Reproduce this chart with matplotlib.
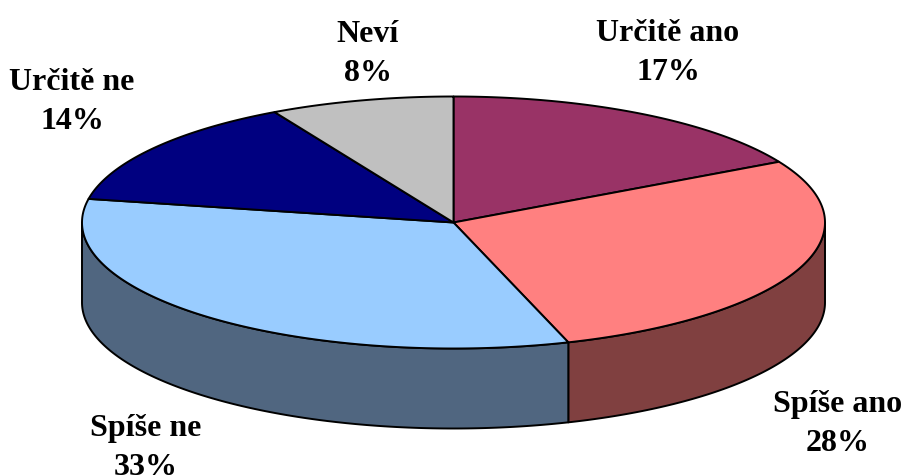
import numpy as np
import matplotlib
matplotlib.use("Agg")
import matplotlib.pyplot as plt
from matplotlib.patches import Polygon

labels = ["Určitě ano", "Spíše ano", "Spíše ne", "Určitě ne", "Neví"]
values = [17, 28, 33, 14, 8]
top_colors = ["#993366", "#FF8080", "#99CCFF", "#000080", "#C0C0C0"]
side_colors = ["#4D1A33", "#804040", "#506680", "#000040", "#606060"]
label_xy = [(668, 53), (838, 424), (146, 448), (72, 102), (368, 54)]

W, H = 904, 476
CX, CY = 453.5, 222.5
RX, RY = 371.5, 126
DEPTH = 80


def rim(a0, a1, n=200):
    t = np.radians(np.linspace(a0, a1, n))
    return np.column_stack([CX + RX * np.sin(t), CY - RY * np.cos(t)])


fig = plt.figure(figsize=(W / 100, H / 100), dpi=100)
ax = fig.add_axes([0, 0, 1, 1])
ax.set_xlim(0, W)
ax.set_ylim(H, 0)
ax.axis("off")

edges = np.cumsum([0] + values) / sum(values) * 360

# pared lateral: solo la mitad de abajo se ve (90..270 grados)
for i in range(len(values)):
    a0, a1 = max(edges[i], 90), min(edges[i + 1], 270)
    if a0 >= a1:
        continue
    arc = rim(a0, a1)
    low = arc[::-1] + [0, DEPTH]
    ax.add_patch(Polygon(np.vstack([arc, low]), closed=True, fc=side_colors[i],
                         ec="black", lw=1.4, joinstyle="round"))

for i in range(len(values)):
    pts = np.vstack([[CX, CY], rim(edges[i], edges[i + 1])])
    ax.add_patch(Polygon(pts, closed=True, fc=top_colors[i], ec="black", lw=1.4,
                         joinstyle="round"))

for name, v, (x, y) in zip(labels, values, label_xy):
    ax.text(x, y, f"{name}\n{v}%", ha="center", va="center", family="Liberation Serif",
            fontweight="bold", fontsize=23, linespacing=1.44, color="black")

fig.savefig("out.png", dpi=100)
